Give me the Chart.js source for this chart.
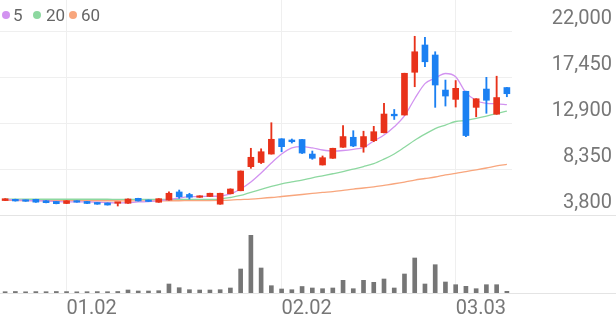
<!DOCTYPE html>
<html>
<head>
<meta charset="utf-8">
<script src="https://cdn.jsdelivr.net/npm/chart.js@4.4.1/dist/chart.umd.min.js"></script>
<style>
  body { margin: 0; background: #fff; }
  #wrap { position: relative; width: 616px; height: 321px; }
  #legend { position: absolute; left: 0; top: 5px; height: 20px; font: 17px Roboto, sans-serif; line-height: 20px; color: #666; }
  #legend .dot { position: absolute; top: 6px; width: 8px; height: 8px; border-radius: 50%; }
  #legend .txt { position: absolute; top: 0; white-space: nowrap; }
</style>
</head>
<body>
<div id="wrap">
  <canvas id="chart" width="616" height="321"></canvas>
  <div id="legend"></div>
</div>
<script>
// ======================== Data ========================
const dates = ['12.22','12.23','12.24','12.26','12.29','12.30',
  '01.02','01.05','01.06','01.07','01.08','01.09','01.12','01.13','01.14','01.15','01.16',
  '01.19','01.20','01.21','01.22','01.23','01.26','01.27','01.28','01.29','01.30',
  '02.02','02.03','02.04','02.05','02.06','02.09','02.10','02.11','02.12','02.13',
  '02.19','02.20','02.23','02.24','02.25','02.26','02.27',
  '03.03','03.04','03.05','03.06','03.09','03.10'];
const shownDates = ['01.02', '02.02', '03.03'];

const opens = [5230,5350,5280,5350,5210,5140,4940,5200,5140,5040,4990,4960,4960,5450,5280,5060,5280,6080,5830,5550,
  5630,4870,5900,6200,8580,8990,9830,11340,11220,11270,9830,8750,9410,10500,11490,10530,11150,11940,13770,13690,
  17920,20620,19630,16160,15240,16040,14450,16260,13770,16410];
const highs = [5420,5370,5290,5360,5230,5150,5230,5210,5150,5050,5000,5030,5390,5460,5290,5420,6100,6270,5950,5700,
  5960,5960,6390,8160,10400,10350,12930,11350,11320,11280,10130,9640,10410,12650,12140,12090,12570,14850,14240,17830,
  21480,21380,19950,17150,17100,16050,15310,17420,17530,16420];
const lows = [5220,5170,5150,5050,5000,4900,4920,5060,4930,4860,4780,4690,4950,5180,5130,5050,5270,5450,5380,5540,
  5620,4860,5890,6190,8420,8890,9820,10060,10920,9880,9310,8740,9400,10490,10560,10010,11050,11930,13250,13680,
  16490,18470,14450,14580,14480,11550,13520,13860,13760,15500];
const closes = [5410,5190,5160,5070,5020,4920,5210,5070,4940,4870,4790,5020,5380,5190,5140,5410,5950,5610,5560,5680,
  5950,5950,6370,8150,9510,10060,11290,10560,11050,9930,9410,9470,10400,11560,10630,11560,12040,13790,13610,17820,
  19950,18960,16660,15570,16330,11660,15300,15150,15420,15800];
const volumes = [130000,150000,120000,140000,130000,150000,140000,120000,130000,140000,130000,150000,
  300000,200000,200000,230000,900000,530000,330000,300000,300000,330000,500000,2400000,5770000,2500000,
  730000,400000,330000,650000,500000,430000,500000,1270000,430000,1270000,1070000,1400000,500000,1900000,
  3500000,900000,2830000,1100000,830000,670000,430000,830000,830000,170000];

const ma5 = [5330,5280,5250,5210,5190,5140,5090,5090,5090,5060,5020,4990,5020,5090,5120,5190,5330,5480,5610,5630,
  5650,5680,5880,6370,7060,7950,8940,9830,10430,10560,10430,10230,10130,10180,10300,10480,11120,11710,12530,13600,
  15300,16800,17350,17800,17480,15900,15130,14850,14800,14720];
const ma20 = [5380,5360,5360,5360,5360,5360,5360,5360,5360,5360,5360,5340,5340,5340,5340,5340,5340,5340,5340,5340,
  5350,5380,5530,5730,6050,6330,6620,6870,7070,7260,7480,7680,7880,8090,8340,8590,8880,9330,9840,10500,
  11200,11800,12350,12700,13050,13150,13350,13590,13840,14070];
const ma60 = [5240,5240,5230,5230,5230,5220,5220,5220,5210,5210,5210,5210,5200,5200,5200,5200,5210,5210,5220,5220,
  5230,5250,5280,5330,5380,5450,5530,5630,5730,5830,5930,6030,6120,6240,6370,6470,6590,6740,6890,7060,
  7260,7410,7560,7760,7920,8100,8270,8450,8650,8810];

const priceTicks = [3800, 8350, 12900, 17450, 22000];
const maLabels = ['5', '20', '60'];
const maColors = ['#d293f0', '#8dd8a0', '#f8a67d'];

// ======================== Legend ========================
const legendDotX = [2, 33, 69];
const legendTxtX = [13, 46, 81];
const legendEl = document.getElementById('legend');
maLabels.forEach((lab, i) => {
  const dot = document.createElement('span');
  dot.className = 'dot';
  dot.style.left = legendDotX[i] + 'px';
  dot.style.background = maColors[i];
  const txt = document.createElement('span');
  txt.className = 'txt';
  txt.style.left = legendTxtX[i] + 'px';
  txt.textContent = lab;
  legendEl.appendChild(dot);
  legendEl.appendChild(txt);
});

// ======================== Chart ========================
const UP = '#e8321a', DOWN = '#1b80f2';
const candleColors = closes.map((c, i) => c >= opens[i] ? UP : DOWN);
const tickFont = { family: 'Roboto', size: 20 };

// separator lines between price and volume panes (full width)
const paneLines = {
  id: 'paneLines',
  beforeDatasetsDraw(chart) {
    const { ctx, width } = chart;
    const v = chart.scales.yv;
    ctx.save();
    ctx.strokeStyle = '#e4e4e4';
    ctx.lineWidth = 1;
    [v.top, v.bottom].forEach(y => {
      const py = Math.round(y) + 0.5;
      ctx.beginPath();
      ctx.moveTo(0, py);
      ctx.lineTo(width, py);
      ctx.stroke();
    });
    ctx.restore();
  }
};

const maLine = (data, i) => ({
  type: 'line', label: maLabels[i], data: data, yAxisID: 'y', order: 2,
  borderColor: maColors[i], borderWidth: 1.3, pointRadius: 0,
  cubicInterpolationMode: 'monotone'
});

new Chart(document.getElementById('chart'), {
  type: 'bar',
  data: {
    labels: dates,
    datasets: [
      { label: 'body', data: opens.map((o, i) => [o, closes[i]]), yAxisID: 'y', order: 0,
        backgroundColor: candleColors, barThickness: 6, minBarLength: 1.5, grouped: false },
      { label: 'wick', data: lows.map((l, i) => [l, highs[i]]), yAxisID: 'y', order: 1,
        backgroundColor: candleColors, barThickness: 1.2, grouped: false },
      maLine(ma5, 0),
      maLine(ma20, 1),
      maLine(ma60, 2),
      { label: 'volume', data: volumes, yAxisID: 'yv', order: 3,
        backgroundColor: '#767676', barThickness: 4, grouped: false }
    ]
  },
  options: {
    responsive: false,
    animation: false,
    devicePixelRatio: 1,
    layout: { padding: { left: 0, top: 0, right: 4, bottom: 0 } },
    plugins: { legend: { display: false }, tooltip: { enabled: false } },
    scales: {
      x: {
        type: 'category',
        offset: true,
        grid: { offset: false, color: '#efefef', drawTicks: false },
        border: { display: false },
        ticks: { autoSkip: false, maxRotation: 0, align: 'start', padding: 4, color: '#777', font: tickFont },
        afterBuildTicks: axis => { axis.ticks = axis.ticks.filter(t => shownDates.includes(dates[t.value])); },
        afterFit: axis => { axis.height = 28; axis.paddingLeft = 0; axis.paddingRight = 0; }
      },
      y: {
        position: 'right',
        stack: 'panes',
        stackWeight: 215,
        min: 3800,
        max: 25070,
        grid: { color: '#efefef', drawTicks: false },
        border: { display: false },
        ticks: { color: '#777', font: tickFont, crossAlign: 'far', labelOffset: -12, padding: 0,
          callback: v => v.toLocaleString('en-US') },
        afterBuildTicks: axis => { axis.ticks = priceTicks.map(v => ({ value: v })); },
        afterFit: axis => { axis.width = 100; axis.paddingTop = 0; axis.paddingBottom = 0; }
      },
      yv: {
        position: 'right',
        stack: 'panes',
        stackWeight: 78,
        min: 0,
        max: 7800000,
        grid: { display: false },
        border: { display: false },
        ticks: { display: false },
        afterFit: axis => { axis.width = 100; axis.paddingTop = 0; axis.paddingBottom = 0; }
      }
    }
  },
  plugins: [paneLines]
});
</script>
</body>
</html>
